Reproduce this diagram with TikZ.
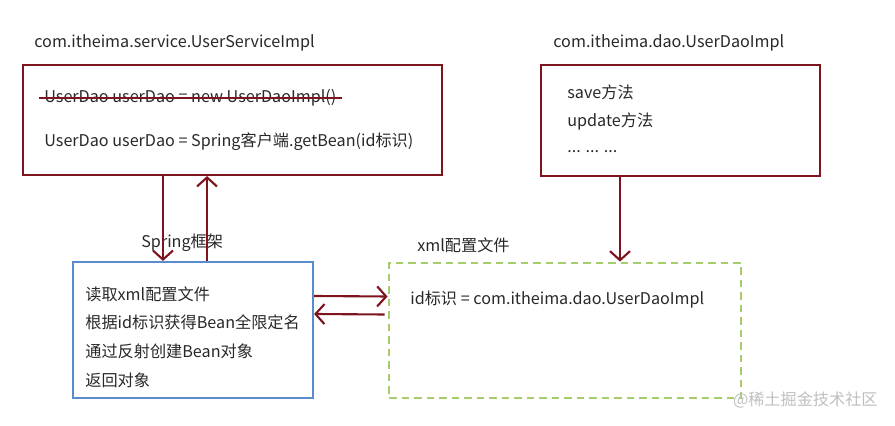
\documentclass[tikz,border=0pt]{standalone}
\usepackage{fontspec}
\setmainfont{Noto Sans CJK SC}
\usepackage{xcolor}
\usetikzlibrary{arrows.meta, positioning}

\definecolor{darkred}{RGB}{125,20,30}
\definecolor{boxblue}{RGB}{90,140,205}
\definecolor{dashgreen}{RGB}{165,205,110}
\definecolor{txt}{RGB}{40,40,40}

\begin{document}
\begin{tikzpicture}[
        font=\fontsize{9.2}{11}\selectfont, text=txt,
        module/.style={rectangle, draw=darkred, line width=1.2pt},
        label/.style={anchor=west, inner sep=0pt},
        arrow/.style={-{Straight Barb[length=1.8mm,width=4mm]}, line width=1.2pt, draw=darkred}
    ]
    \useasboundingbox (0,0) rectangle (17.9,8.52);

    % Boxes
    \node[module, minimum width=8.38cm, minimum height=2.2cm] (service) at (4.65, 6.12) {};
    \node[module, minimum width=5.58cm, minimum height=2.22cm] (dao) at (13.61, 6.11) {};
    \node[rectangle, draw=boxblue, line width=1.2pt, minimum width=4.8cm, minimum height=2.72cm] (spring) at (3.86, 1.92) {};
    \node[rectangle, draw=dashgreen, line width=1.6pt, dash pattern=on 1.5mm off 1mm, minimum width=7.04cm, minimum height=2.7cm] (xml) at (11.3, 1.91) {};

    % Titles
    \node[label] (servicetitle) at (0.68, 7.66) {com.itheima.service.UserServiceImpl};
    \node[label] (daotitle) at (11.06, 7.66) {com.itheima.dao.UserDaoImpl};
    \node[label] (springtitle) at (2.82, 3.66) {Spring框架};
    \node[label] (xmltitle) at (8.34, 3.62) {xml配置文件};

    % Box texts
    \node[label] (oldline) at (0.88, 6.56) {UserDao userDao = new UserDaoImpl()};
    \draw[darkred, line width=1.1pt] ([xshift=-1mm]oldline.west) -- ([xshift=1mm]oldline.east);
    \node[label] (newline) at (0.88, 5.68) {UserDao userDao = Spring客户端.getBean(id标识)};

    \node[label] (save) at (11.34, 6.68) {save方法};
    \node[label] (update) at (11.34, 6.08) {update方法};
    \node[label] (more) at (11.34, 5.48) {... ... ...};

    \node[label] (read) at (1.7, 2.64) {读取xml配置文件};
    \node[label] (fetch) at (1.7, 2.08) {根据id标识获得Bean全限定名};
    \node[label] (create) at (1.7, 1.50) {通过反射创建Bean对象};
    \node[label] (back) at (1.7, 0.92) {返回对象};

    \node[label] (entry) at (8.2, 2.52) {id标识 = com.itheima.dao.UserDaoImpl};

    \node[anchor=east, inner sep=0pt, text=black!25] (mark) at (17.56, 0.52) {@稀土掘金技术社区};

    % Connectors
    \coordinate (down) at (3.26, 0);
    \coordinate (up) at (4.14, 0);
    \coordinate (daodown) at (12.4, 0);
    \draw[arrow] (service.south -| down) -- (spring.north -| down);
    \draw[arrow] (spring.north -| up) -- (service.south -| up);
    \draw[arrow] (dao.south -| daodown) -- (xml.north -| daodown);
    \draw[arrow] ([yshift=6.8mm]spring.east) -- ([yshift=6.8mm]xml.west);
    \draw[arrow] ([yshift=3.2mm, xshift=-0.6mm]xml.west) -- ([yshift=3.2mm]spring.east);

\end{tikzpicture}
\end{document}
